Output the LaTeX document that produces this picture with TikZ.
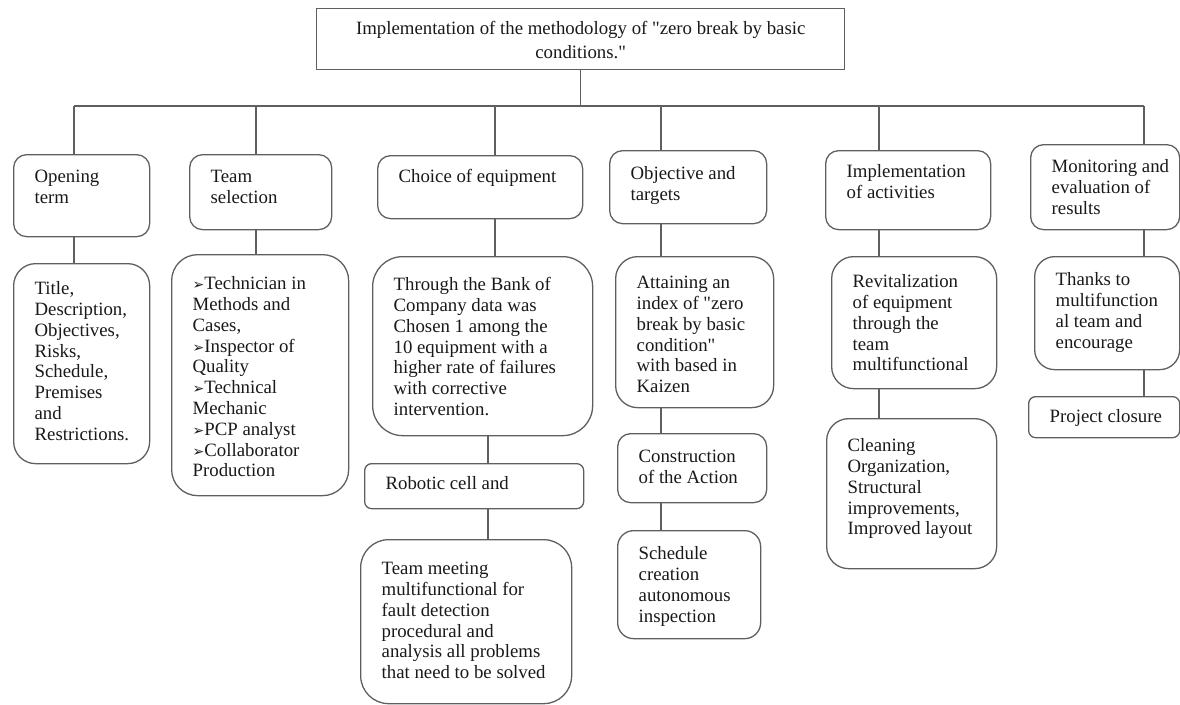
\documentclass[tikz,border=0pt]{standalone}
\usepackage{fontspec}
\setmainfont{Liberation Serif}[Ligatures=TeXOff]
\newfontfamily\dingfont{DejaVu Sans}
\usepackage{xcolor}
\usepackage{tikz}
\usetikzlibrary{positioning, calc}
\definecolor{framegray}{RGB}{95, 95, 95}
\definecolor{inkgray}{RGB}{25, 25, 25}

% text block of a box: [first baseline]{width}{height}{text}
\newcommand{\cell}[4][30]{\hspace*{21pt}\parbox[c][#3pt][t]{\dimexpr#2pt-21pt\relax}{\raggedright\rule{0pt}{#1pt}#4}}
\newcommand{\bulletmark}{{\dingfont\fontsize{14}{14}\selectfont ➢}}

\tikzset{
    headbox/.style={draw=framegray, line width=1.4pt, inner sep=0pt, anchor=north west},
    stage/.style={draw=framegray, line width=1.3pt, rounded corners=13pt, inner sep=0pt, anchor=north west},
    detail/.style={stage, rounded corners=22pt},
    strip/.style={stage, rounded corners=7pt},
    link/.style={draw=framegray, line width=1.3pt}
}

\begin{document}
\begin{tikzpicture}[x=1pt, y=-1pt, text=inkgray, font=\fontsize{18.8}{20.8}\selectfont]
    \useasboundingbox (0,0) rectangle (1180,704);

    % Title
    \node[headbox] (goal) at (316,8) {\parbox[c][61pt][t]{528pt}{\centering\baselineskip=24pt\rule{0pt}{26pt}Implementation of the methodology of "zero break by basic\\conditions."}};

    % Top-level stages
    \node[stage] (open)  at (13,154)   {\cell[28]{136}{82}{Opening\\term}};
    \node[stage] (crew)  at (189,154)  {\cell[28]{142}{75}{Team\\selection}};
    \node[stage] (pick)  at (377,155)  {\cell[27]{205}{63}{Choice of equipment}};
    \node[stage] (aim)   at (609,150)  {\cell[29]{157}{73}{Objective and\\targets}};
    \node[stage] (act)   at (825,150)  {\cell[27]{165}{79}{Implementation\\of activities}};
    \node[stage] (watch) at (1030,144) {\cell[28]{149}{85}{Monitoring and\\evaluation of\\results}};

    % Details under each stage
    \node[detail] (charter) at (13,263) {\cell[31]{136}{200}{Title,\\Description,\\Objectives,\\Risks,\\Schedule,\\Premises\\and\\Restrictions.}};
    \node[detail, rounded corners=26pt] (members) at (171,254) {\cell[35]{177}{241}{\bulletmark Technician in\\Methods and\\Cases,\\\bulletmark Inspector of\\Quality\\\bulletmark Technical\\Mechanic\\\bulletmark PCP analyst\\\bulletmark Collaborator\\Production}};
    \node[detail, rounded corners=30pt] (bank) at (372,256) {\cell[34]{220}{179}{Through the Bank of\\Company data was\\Chosen 1 among the\\10 equipment with a\\higher rate of failures\\with corrective\\intervention.}};
    \node[strip] (robot) at (364,463) {\cell[26]{219}{45}{Robotic cell and}};
    \node[detail, rounded corners=28pt] (meeting) at (360,539) {\cell[35]{211}{164}{Team meeting\\multifunctional for\\fault detection\\procedural and\\analysis all problems\\that need to be solved}};
    \node[detail] (attain) at (615,256) {\cell[32]{158}{151}{Attaining an\\index of "zero\\break by basic\\condition"\\with based in\\Kaizen}};
    \node[stage] (build) at (617,433) {\cell[29]{149}{69}{Construction\\of the Action}};
    \node[stage, rounded corners=16pt] (sched) at (617,530) {\cell[29]{143}{108}{Schedule\\creation\\autonomous\\inspection}};
    \node[detail] (revive) at (831,256) {\cell[31]{165}{132}{Revitalization\\of equipment\\through the\\team\\multifunctional}};
    \node[detail] (clean) at (826,418) {\cell[33]{170}{150}{Cleaning\\Organization,\\Structural\\improvements,\\Improved layout}};
    \node[detail, rounded corners=20pt] (thanks) at (1034,256) {\cell[29]{145}{113}{Thanks to\\multifunction\\al team and\\encourage}};
    \node[strip] (close) at (1028,396) {\cell[26]{151}{41}{Project closure}};

    % Bus and columns
    \coordinate (c1) at (74,106);
    \coordinate (c2) at (256,106);
    \coordinate (c3) at (495,106);
    \coordinate (c3b) at (488,106);
    \coordinate (c4) at (661,106);
    \coordinate (c5) at (879,106);
    \coordinate (c6) at (1144,106);
    \draw[link] (goal.south) -- (goal.south |- c1);
    \draw[link] (c1) -- (c6);
    \draw[link] (c1) -- (c1 |- open.north);
    \draw[link] (c2) -- (c2 |- crew.north);
    \draw[link] (c3) -- (c3 |- pick.north);
    \draw[link] (c4) -- (c4 |- aim.north);
    \draw[link] (c5) -- (c5 |- act.north);
    \draw[link] (c6) -- (c6 |- watch.north);

    % Links down the columns
    \draw[link] (open.south -| c1) -- (c1 |- charter.north);
    \draw[link] (crew.south -| c2) -- (c2 |- members.north);
    \draw[link] (pick.south -| c3) -- (c3 |- bank.north);
    \draw[link] (bank.south -| c3b) -- (c3b |- robot.north);
    \draw[link] (robot.south -| c3b) -- (c3b |- meeting.north);
    \draw[link] (aim.south -| c4) -- (c4 |- attain.north);
    \draw[link] (attain.south -| c4) -- (c4 |- build.north);
    \draw[link] (build.south -| c4) -- (c4 |- sched.north);
    \draw[link] (act.south -| c5) -- (c5 |- revive.north);
    \draw[link] (revive.south -| c5) -- (c5 |- clean.north);
    \draw[link] (watch.south -| c6) -- (c6 |- thanks.north);
    \draw[link] (thanks.south -| c6) -- (c6 |- close.north);
\end{tikzpicture}
\end{document}
